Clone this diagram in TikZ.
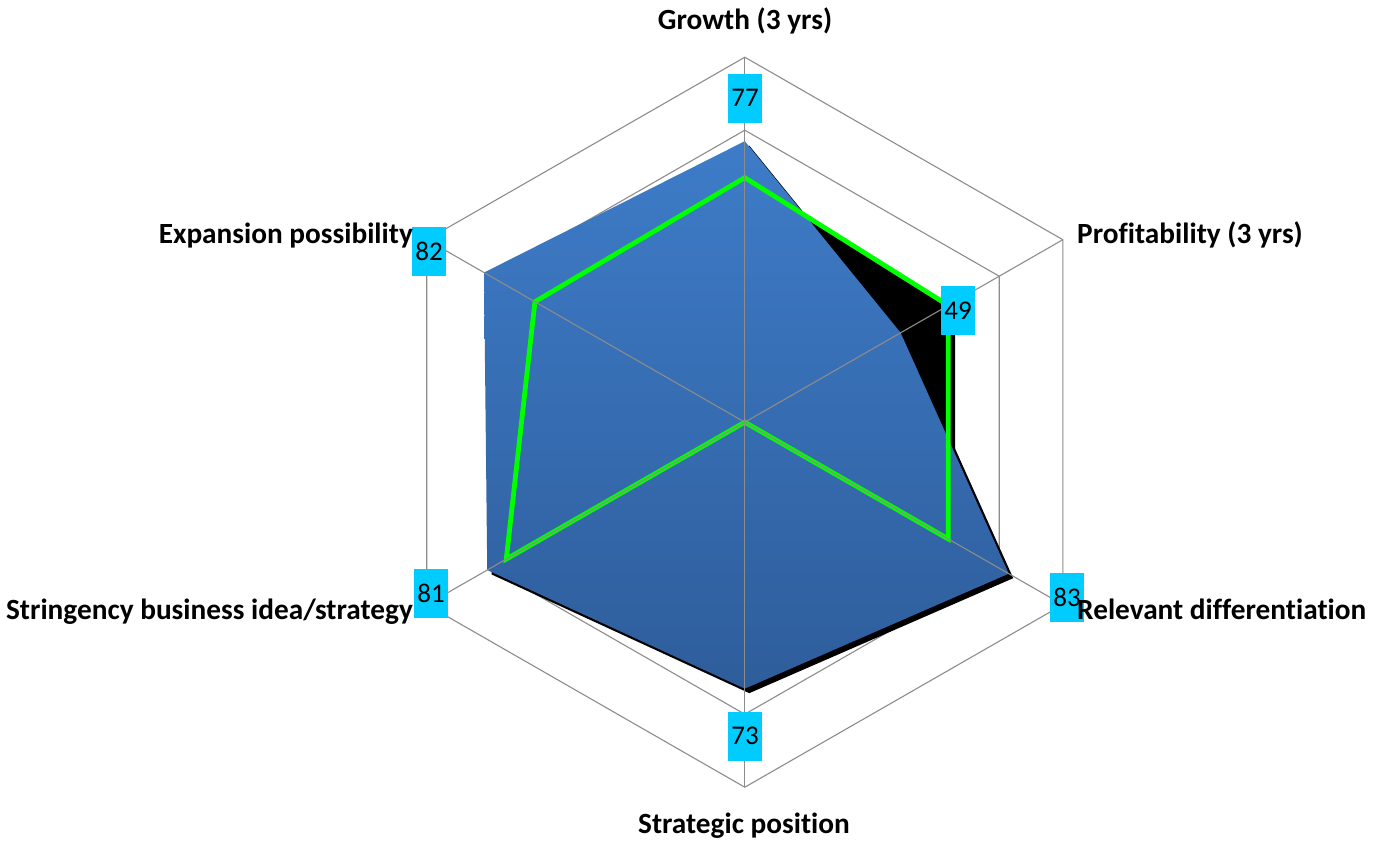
\documentclass[tikz,border=0pt]{standalone}
\usepackage{fontspec}
\setmainfont{Carlito}[Ligatures=NoCommon]
\definecolor{gridgray}{RGB}{140,140,140}
\definecolor{bluetop}{RGB}{62,124,200}
\definecolor{bluebot}{RGB}{46,93,155}
\definecolor{labcyan}{RGB}{0,204,255}
\definecolor{serieg}{RGB}{0,255,0}
\tikzset{
  gridline/.style={draw=gridgray, line width=1.1pt},
  valbox/.style={fill=labcyan, minimum width=34pt, minimum height=49pt, inner sep=0pt, font=\fontsize{27}{30}\selectfont},
  catlab/.style={inner sep=0pt, font=\fontsize{29.3}{32}\selectfont\bfseries},
  greenline/.style={draw=serieg, line width=4.8pt, line join=miter}
}
\def\bluepoly{(90:77) -- (30:49) -- (-30:83) -- (-90:73) -- (210:81) -- (150:82) -- cycle}
\def\greenpoly{(90:67) -- (30:64) -- (-30:64) -- (-90:0) -- (210:75) -- (150:66) -- cycle}
\begin{document}
\begin{tikzpicture}[x=1pt,y=-1pt]
\useasboundingbox (0,0) rectangle (1374,844);
\begin{scope}[shift={(744.8,422.2)}, x=3.672pt, y=3.65pt]
  % rings
  \foreach \r in {20,40,60,80,100}
    \draw[gridline] (90:\r) -- (30:\r) -- (-30:\r) -- (-90:\r) -- (210:\r) -- (150:\r) -- cycle;
  % shadows
  \begin{scope}[shift={(4.5pt,-4.5pt)}]
    \fill[black] \bluepoly;
    \filldraw[black, line width=4.8pt, line join=miter] \greenpoly;
  \end{scope}
  % blue area
  \shade[top color=bluetop, bottom color=bluebot] \bluepoly;
  % green line
  \draw[greenline] \greenpoly;
  % spokes
  \foreach \a in {90,30,-30,-90,210,150}
    \draw[gridline] (0,0) -- (\a:100);
\end{scope}
% value boxes
\node[valbox] (v1) at (745,98.3) {77};
\node[valbox] (v2) at (958,310.3) {49};
\node[valbox] (v3) at (1067,597.3) {83};
\node[valbox] (v4) at (745,736.3) {73};
\node[valbox] (v5) at (431,593.3) {81};
\node[valbox] (v6) at (429,251.7) {82};
% category labels
\node[catlab, anchor=base] (c1) at (745,29.5) {Growth (3 yrs)};
\node[catlab, anchor=base west] (c2) at (1077,243.3) {Profitability (3 yrs)};
\node[catlab, anchor=base west] (c3) at (1077,619) {Relevant differentiation};
\node[catlab, anchor=base] (c4) at (744,833) {Strategic position};
\node[catlab, anchor=base east] (c5) at (413,619) {Stringency business idea/strategy};
\node[catlab, anchor=base east] (c6) at (413,243.3) {Expansion possibility};
\end{tikzpicture}
\end{document}
